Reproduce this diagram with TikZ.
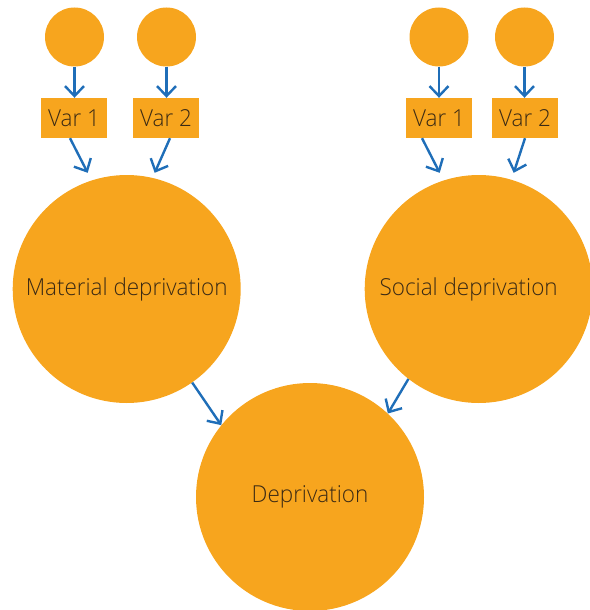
\documentclass[tikz,border=0pt]{standalone}
\usepackage{fontspec}
\setmainfont{Open Sans}[UprightFont=* Light, FakeStretch=0.96]
\usetikzlibrary{arrows.meta}
\definecolor{fillorange}{HTML}{F7A51E}
\definecolor{linkblue}{HTML}{1F6EB8}
\definecolor{labelbrown}{HTML}{3B2A14}
\tikzset{
  latent/.style={circle, fill=fillorange, draw=none, inner sep=0pt, minimum size=59pt},
  factor/.style={circle, fill=fillorange, draw=none, inner sep=0pt, minimum size=228pt,
                 font=\fontsize{23.4}{26}\selectfont, text=labelbrown},
  varbox/.style={rectangle, fill=fillorange, draw=none, inner sep=0pt,
                 minimum width=66pt, minimum height=40pt,
                 font=\fontsize{23.4}{26}\selectfont, text=labelbrown},
  link/.style={draw=linkblue, line width=2.4pt,
               -{Straight Barb[length=10pt,width=19pt]}}
}
\begin{document}
\begin{tikzpicture}[x=1pt, y=-1pt]
  \useasboundingbox (0,0) rectangle (589,610);

  % indicator circles
  \node[latent] (c1) at (74.5,37) {};
  \node[latent] (c2) at (166.5,37) {};
  \node[latent] (c3) at (439,37) {};
  \node[latent] (c4) at (524.5,37) {};

  % observed variables
  \node[varbox] (v1) at (74,118) {Var 1};
  \node[varbox] (v2) at (166,118) {Var 2};
  \node[varbox] (v3) at (439,118) {Var 1};
  \node[varbox] (v4) at (525,118) {Var 2};

  % latent factors
  \node[factor] (mat) at (126.7,289) {Material deprivation};
  \node[factor] (soc) at (478.7,289) {Social deprivation\hspace*{20pt}};
  \node[factor] (dep) at (310,497) {Deprivation};

  % circles to variables
  \draw[link] (c1) -- (c1 |- v1.north);
  \draw[link] (c2) -- (c2 |- v2.north);
  \draw[link] (c3) -- (c3 |- v3.north);
  \draw[link] (c4) -- (c4 |- v4.north);

  % variables to factors
  \draw[link] ([xshift=-4pt]v1.south) -- ([xshift=-39pt,yshift=2pt]mat.north);
  \draw[link] ([xshift=4pt]v2.south) -- ([xshift=28pt,yshift=2pt]mat.north);
  \draw[link] ([xshift=-17pt]v3.south) -- ([xshift=-39pt,yshift=2pt]soc.north);
  \draw[link] (v4.south) -- ([xshift=35pt,yshift=2pt]soc.north);

  % factors to overall deprivation
  \draw[link] (mat.-55.5) -- (dep.141);
  \draw[link] (soc.-128) -- (dep.47);
\end{tikzpicture}
\end{document}
